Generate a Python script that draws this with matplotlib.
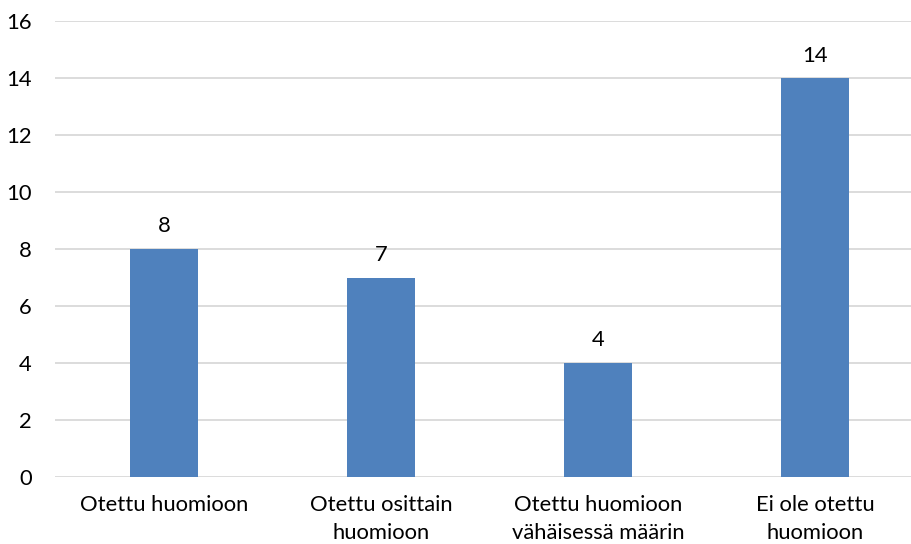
import matplotlib.pyplot as plt
import numpy as np

plt.rcParams['font.family'] = ['Lato', 'DejaVu Sans']

categories = ["Otettu huomioon", "Otettu osittain\nhuomioon",
              "Otettu huomioon\nvähäisessä määrin", "Ei ole otettu\nhuomioon"]
values = [8, 7, 4, 14]
yticks = [0, 2, 4, 6, 8, 10, 12, 14, 16]

fig = plt.figure(figsize=(9.12, 5.44), dpi=100)
# axes extends slightly past the right edge like the reference crop
ax = fig.add_axes([55.5 / 912, 1 - 477 / 544, 868 / 912, 456 / 544])

x = np.arange(len(categories))
bars = ax.bar(x, values, width=0.312, color='#4f81bd', zorder=3)

for xi, v in zip(x, values):
    ax.annotate(str(v), (xi, v), xytext=(0, 9), textcoords='offset points',
                ha='center', va='bottom', fontsize=15.8, color='#000000')

ax.set_xlim(-0.5, len(categories) - 0.5)
ax.set_ylim(0, 16)
ax.set_yticks(yticks)
ax.set_xticks(x)
ax.set_xticklabels(categories, fontsize=15.8, linespacing=1.5)
ax.tick_params(axis='y', labelsize=15.8, length=0, pad=17)
ax.tick_params(axis='x', length=0, pad=13)
ax.grid(axis='y', color='#d9d9d9', linewidth=1.3, zorder=0)
for s in ax.spines.values():
    s.set_visible(False)

fig.savefig('out.png', dpi=100)
